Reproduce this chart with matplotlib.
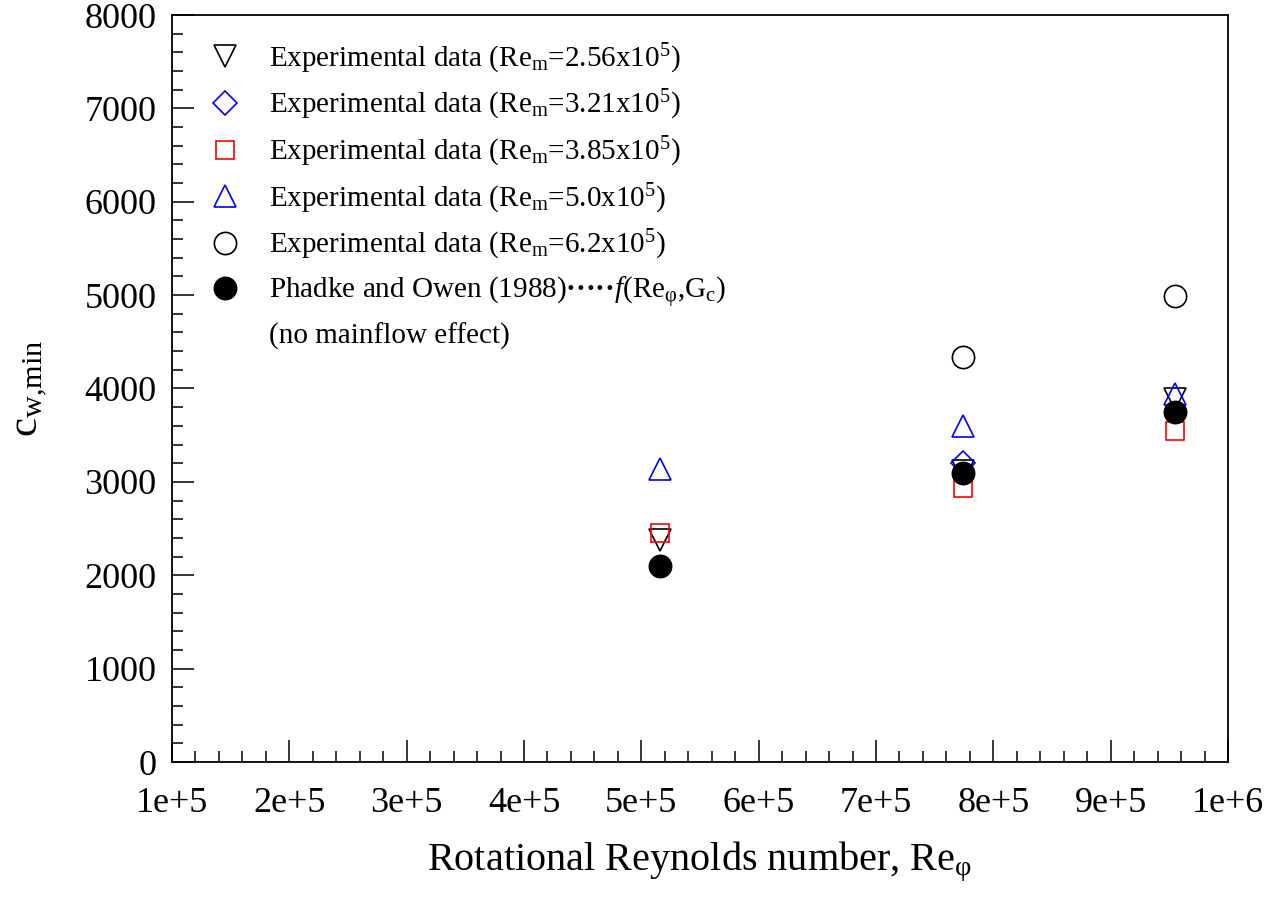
import numpy as np
import matplotlib
matplotlib.use("Agg")
import matplotlib.pyplot as plt
from matplotlib.ticker import MultipleLocator, FixedLocator, FixedFormatter
from matplotlib.lines import Line2D

plt.rcParams['font.family'] = ['Liberation Serif', 'DejaVu Serif']
plt.rcParams['mathtext.fontset'] = 'custom'
plt.rcParams['mathtext.rm'] = 'Liberation Serif'
plt.rcParams['mathtext.it'] = 'Liberation Serif:italic'
plt.rcParams['mathtext.bf'] = 'Liberation Serif:bold'

# Rotational Reynolds numbers of the three test conditions
re_phi = [5.16e5, 7.74e5, 9.55e5]

# Minimum sealing flow coefficient for each mainflow Reynolds number
cw_re256 = [2380, 3120, 3885]
cw_re321 = [np.nan, 3200, np.nan]
cw_re385 = [2450, 2935, 3545]
cw_re500 = [3135, 3600, 3940]
cw_re620 = [np.nan, 4340, 4995]
cw_phadke = [2100, 3090, 3750]

x_ticks = [1e5, 2e5, 3e5, 4e5, 5e5, 6e5, 7e5, 8e5, 9e5, 1e6]
x_tick_labels = ["1e+5", "2e+5", "3e+5", "4e+5", "5e+5", "6e+5", "7e+5", "8e+5", "9e+5", "1e+6"]

fig = plt.figure(figsize=(12.7, 8.97), dpi=100)
ax = fig.add_axes([172 / 1270, 135 / 897, 1056 / 1270, 747 / 897])

mew = 1.2
ax.plot(re_phi, cw_re256, linestyle='none', marker='v', ms=16, mfc='none', mec='black', mew=mew,
        label="Experimental data (Re$_\\mathrm{m}$=2.56x10$^5$)")
ax.plot(re_phi, cw_re321, linestyle='none', marker='D', ms=12.5, mfc='none', mec='blue', mew=mew,
        label="Experimental data (Re$_\\mathrm{m}$=3.21x10$^5$)")
ax.plot(re_phi, cw_re385, linestyle='none', marker='s', ms=13.5, mfc='none', mec='red', mew=mew,
        label="Experimental data (Re$_\\mathrm{m}$=3.85x10$^5$)")
ax.plot(re_phi, cw_re500, linestyle='none', marker='^', ms=16, mfc='none', mec='blue', mew=mew,
        label="Experimental data (Re$_\\mathrm{m}$=5.0x10$^5$)")
ax.plot(re_phi, cw_re620, linestyle='none', marker='o', ms=16, mfc='none', mec='black', mew=mew,
        label="Experimental data (Re$_\\mathrm{m}$=6.2x10$^5$)")
ax.plot(re_phi, cw_phadke, linestyle='none', marker='o', ms=16, mfc='black', mec='black', mew=mew,
        label="Phadke and Owen (1988)$\\mathbf{\u00b7\u00b7\u00b7\u00b7\u00b7}$$\\mathit{f}$(Re$_\\mathrm{φ}$,G$_\\mathrm{c}$)")
ax.add_line(Line2D([], [], linestyle='none', marker=None, label="(no mainflow effect)"))

ax.set_xlim(1e5, 1e6)
ax.set_ylim(0, 8000)
ax.xaxis.set_major_locator(FixedLocator(x_ticks))
ax.xaxis.set_major_formatter(FixedFormatter(x_tick_labels))
ax.xaxis.set_minor_locator(MultipleLocator(2e4))
ax.yaxis.set_major_locator(MultipleLocator(1000))
ax.yaxis.set_minor_locator(MultipleLocator(200))

ax.tick_params(which='both', direction='in', top=False, right=False, width=1.1, labelsize=26)
ax.tick_params(which='major', length=16)
ax.tick_params(which='minor', length=8)
ax.tick_params(axis='x', pad=18)
ax.tick_params(axis='y', pad=11)
for s in ax.spines.values():
    s.set_linewidth(1.3)

ax.set_xlabel("Rotational Reynolds number, Re$_\\mathrm{φ}$", fontsize=29, labelpad=14)
ax.set_ylabel("c$_\\mathrm{w{,}min}$", fontsize=31, labelpad=25)

leg = ax.legend(loc='upper left', frameon=False, fontsize=21, labelspacing=0.43,
                handletextpad=0.75, borderaxespad=0.3, handlelength=1.5,
                bbox_to_anchor=(0.01, 0.992))

fig.savefig("out.png", dpi=100)
